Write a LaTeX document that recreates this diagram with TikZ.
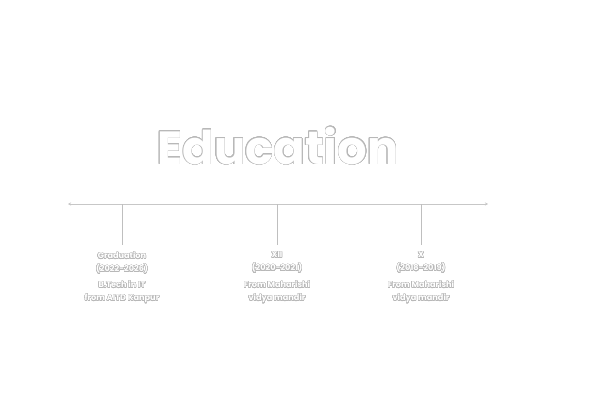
\documentclass[tikz,border=0pt]{standalone}
\usepackage{fontspec}
\setmainfont{Poppins}
\usepackage{contour}
\usetikzlibrary{arrows.meta}
\contourlength{0.35pt}
\contournumber{24}
\newcommand{\ol}[1]{\contour{black!28}{\textcolor{white}{#1}}}
\begin{document}
\begin{tikzpicture}[x=1pt,y=-1pt,
  lbl/.style={font=\fontsize{8.2}{13}\selectfont\bfseries, align=center, anchor=north, inner sep=0pt},
  sub/.style={lbl, font=\fontsize{8.2}{13}\selectfont\bfseries},
  tick/.style={draw=black!25, line width=0.8pt},
  axis/.style={draw=black!22, line width=0.9pt, {Stealth[length=3pt,width=3pt]}-{Stealth[length=3pt,width=3pt]}}]
\useasboundingbox[fill=white] (0,0) rectangle (594,420);
\node[font=\fontsize{46.5}{46.5}\selectfont\bfseries, inner sep=0pt] (title) at (278,146) {\contourlength{0.5pt}\ol{Education}};
\coordinate (L) at (68,204);
\coordinate (R) at (488,204);
\draw[axis] (L) -- (R);
\coordinate (t1) at (122,204);
\coordinate (t2) at (277,204);
\coordinate (t3) at (421,204);
\node[lbl] (a) at (122,252) {\ol{Graduation}\\\ol{(2022-2026)}};
\node[lbl] (b) at (277,252) {\ol{XII}\\\ol{(2020-2021)}};
\node[lbl] (c) at (421,252) {\ol{X}\\\ol{(2018-2019)}};
\node[sub] (a2) at (122,281) {\ol{B.Tech in IT}\\\ol{from AITD Kanpur}};
\node[sub] (b2) at (277,281) {\ol{From Maharishi}\\\ol{vidya mandir}};
\node[sub] (c2) at (421,281) {\ol{From Maharishi}\\\ol{vidya mandir}};
\draw[tick] (t1) -- (122,245);
\draw[tick] (t2) -- (277,245);
\draw[tick] (t3) -- (421,245);
\end{tikzpicture}
\end{document}
